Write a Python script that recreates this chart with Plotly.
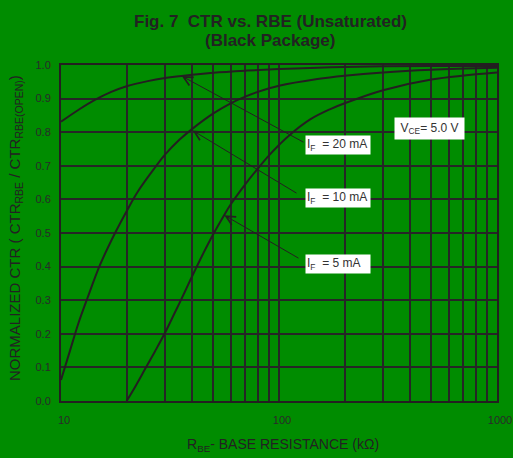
import math
import plotly.graph_objects as go

# Values (RBE in kOhm, normalized CTR)
rbe_20ma = [10, 12, 14.3, 17, 20, 25, 30, 40, 50, 70, 100, 150, 200, 300, 500, 1000]
ctr_20ma = [0.831, 0.866, 0.896, 0.92, 0.937, 0.952, 0.961, 0.971, 0.977, 0.983, 0.988, 0.992, 0.994, 0.996, 0.997, 0.997]

rbe_10ma = [10, 11, 12, 13.2, 15.1, 17.7, 20, 22.6, 27, 30, 35, 40, 50, 60, 70, 80, 100, 150, 200, 300, 500, 1000]
ctr_10ma = [0.0625, 0.15, 0.23, 0.305, 0.405, 0.5, 0.565, 0.625, 0.695, 0.733, 0.778, 0.81, 0.856, 0.886, 0.906, 0.92, 0.938, 0.958, 0.968, 0.978, 0.986, 0.992]

rbe_5ma = [20, 22, 24.3, 27, 30, 33, 37, 40, 45, 50, 56, 60, 70, 80, 90, 100, 112, 139, 171, 200, 300, 500, 1000]
ctr_5ma = [0.0, 0.045, 0.095, 0.148, 0.203, 0.258, 0.325, 0.372, 0.44, 0.497, 0.553, 0.585, 0.645, 0.692, 0.731, 0.762, 0.792, 0.838, 0.868, 0.886, 0.925, 0.957, 0.978]

# arrow targets on the curves
arrow_rbe = [35.8, 40.2, 56.1]
arrow_ctr = [0.967, 0.805, 0.553]
curve_labels = ["I<sub>F</sub>  = 20 mA", "I<sub>F</sub>  = 10 mA", "I<sub>F</sub>  = 5 mA"]

x_grid = [10, 20, 30, 40, 50, 60, 70, 80, 90, 100, 200, 300, 400, 500, 600, 700, 800, 900, 1000]
x_tick_text = ["10", "", "", "", "", "", "", "", "", "100", "", "", "", "", "", "", "", "", "1000"]

GREEN = "#008c00"
INK = "#231f20"
FONT = "Liberation Sans, Arial, sans-serif"

# plot area in pixels
L, R, T, B = 61, 497, 65, 401


def px_x(p):
    return (p - L) / (R - L)


def px_y(p):
    return (B - p) / (B - T)


fig = go.Figure()

for xs, ys, name in [(rbe_20ma, ctr_20ma, "20 mA"), (rbe_10ma, ctr_10ma, "10 mA"), (rbe_5ma, ctr_5ma, "5 mA")]:
    fig.add_trace(go.Scatter(
        x=xs, y=ys, mode="lines", name=name,
        line=dict(color=INK, width=2, shape="spline", smoothing=1.0),
        showlegend=False
    ))

annotations = []

# arrows (tails at the left side of the label boxes)
arrow_tails = [(305, 143), (298, 194), (300, 259)]
for rbe, ctr, (tx, ty) in zip(arrow_rbe, arrow_ctr, arrow_tails):
    hx = L + (math.log10(rbe) - 1) / 2 * (R - L)
    hy = B - ctr * (B - T)
    annotations.append(dict(
        x=math.log10(rbe), y=ctr, xref="x", yref="y", text="",
        showarrow=True, arrowhead=5, arrowsize=1.8, arrowwidth=1, arrowcolor=INK,
        ax=tx - hx, ay=ty - hy
    ))

# curve labels
label_centers = [144.7, 198, 263.8]
for text, cy in zip(curve_labels, label_centers):
    annotations.append(dict(
        x=px_x(338), y=px_y(cy), xref="paper", yref="paper", text=text,
        showarrow=False, xanchor="center", yanchor="middle", align="left",
        width=62, height=16, bgcolor="white", borderpad=1,
        font=dict(family=FONT, size=12, color="#333333")
    ))

annotations.append(dict(
    x=px_x(429.5), y=px_y(128.5), xref="paper", yref="paper", text="V<sub>CE</sub>= 5.0 V",
    showarrow=False, xanchor="center", yanchor="middle", align="center",
    width=67, height=19, bgcolor="white", borderpad=1,
    font=dict(family=FONT, size=12, color="#333333")
))

# title lines
annotations.append(dict(
    x=px_x(270), y=px_y(21), xref="paper", yref="paper",
    text="<b>Fig. 7  CTR vs. RBE (Unsaturated)</b>", showarrow=False,
    xanchor="center", yanchor="middle", font=dict(family=FONT, size=17, color="#222222")
))
annotations.append(dict(
    x=px_x(270), y=px_y(40), xref="paper", yref="paper",
    text="<b>(Black Package)</b>", showarrow=False,
    xanchor="center", yanchor="middle", font=dict(family=FONT, size=17, color="#222222")
))

# axis titles
annotations.append(dict(
    x=px_x(283), y=px_y(444.7), xref="paper", yref="paper",
    text="R<sub>BE</sub>- BASE RESISTANCE (k\u03a9)", showarrow=False,
    xanchor="center", yanchor="middle", font=dict(family=FONT, size=14, color="#222222")
))
annotations.append(dict(
    x=px_x(15), y=px_y(228), xref="paper", yref="paper", textangle=-90,
    text="NORMALIZED CTR ( CTR<sub>RBE</sub> / CTR<sub>RBE(OPEN)</sub>)", showarrow=False,
    xanchor="center", yanchor="middle", font=dict(family=FONT, size=15, color="#222222")
))

fig.update_layout(
    width=513, height=458,
    margin=dict(l=L, r=513 - R, t=T, b=458 - B),
    paper_bgcolor=GREEN, plot_bgcolor=GREEN,
    font=dict(family=FONT, size=11, color="#2a2a2a"),
    annotations=annotations,
    xaxis=dict(
        type="log", range=[1, 3], tickvals=x_grid, ticktext=x_tick_text,
        showgrid=True, gridcolor="#262626", gridwidth=1.5,
        showline=True, linecolor=INK, linewidth=2, mirror=True,
        ticks="", ticklabelstandoff=8, ticklabelshift=3, zeroline=False,
        automargin=False, fixedrange=True
    ),
    yaxis=dict(
        range=[0, 1.0], dtick=0.1, tickformat=".1f",
        showgrid=True, gridcolor="#262626", gridwidth=1.5,
        showline=True, linecolor=INK, linewidth=2, mirror=True,
        ticks="", ticklabelstandoff=6, zeroline=False,
        automargin=False, fixedrange=True
    ),
)

# the page's default body margin would shift the chart by 8px
fig.write_html(
    "out.html",
    config={"displayModeBar": False},
    post_script="document.body.style.margin='0';document.body.style.overflow='hidden';"
)
